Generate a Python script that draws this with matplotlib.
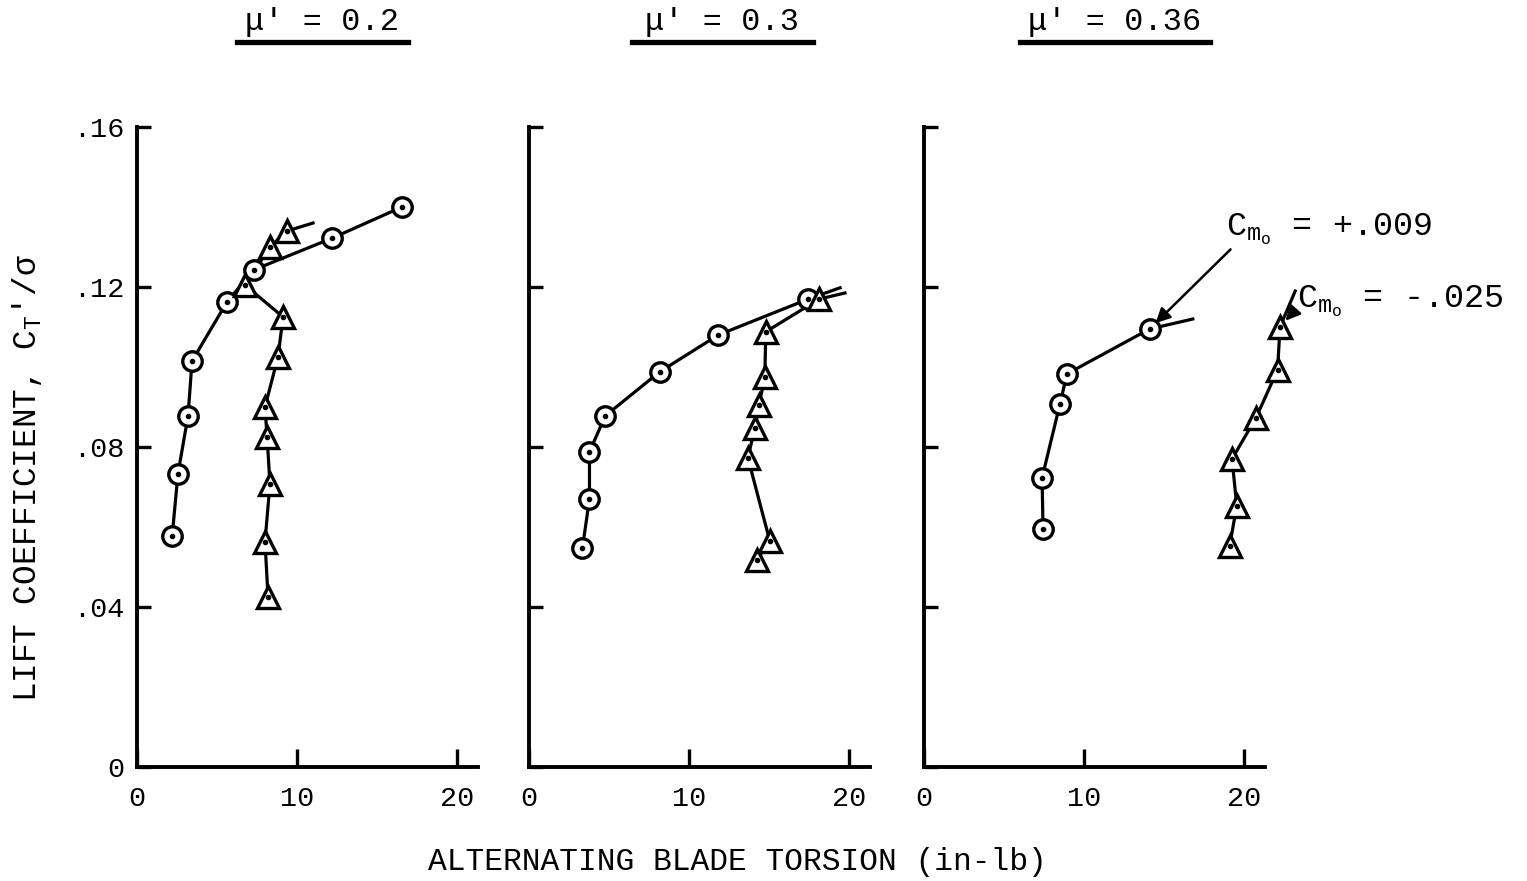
import matplotlib.pyplot as plt
import matplotlib.lines as mlines

plt.rcParams['font.family'] = ['Liberation Mono', 'DejaVu Sans Mono']
plt.rcParams['mathtext.fontset'] = 'custom'
plt.rcParams['mathtext.rm'] = 'Liberation Mono'
plt.rcParams['mathtext.it'] = 'Liberation Mono'

# data: torsion (in-lb) vs CT'/sigma
titles = ["μ' = 0.2", "μ' = 0.3", "μ' = 0.36"]

circ_x = [
    [2.2, 2.56, 3.19, 3.44, 5.63, 7.31, 12.19, 16.56],
    [3.34, 3.78, 3.78, 4.77, 8.17, 11.83, 17.46],
    [7.44, 7.38, 8.5, 8.94, 14.1],
]
circ_y = [
    [0.0578, 0.0733, 0.0878, 0.1015, 0.1163, 0.1243, 0.1322, 0.140],
    [0.0548, 0.067, 0.0788, 0.0878, 0.0988, 0.108, 0.117],
    [0.0595, 0.0723, 0.0908, 0.0983, 0.1095],
]
# faired curve continues past the last point
circ_tail = [None, (19.44, 0.1198), (16.8, 0.112)]

tri_x = [
    [8.19, 8.0, 8.31, 8.13, 8.0, 8.81, 9.13, 6.75, 8.31, 9.38],
    [14.24, 15.05, 13.68, 14.12, 14.37, 14.74, 14.8, 18.14],
    [19.1, 19.55, 19.25, 20.75, 22.1, 22.25],
]
tri_y = [
    [0.0425, 0.0563, 0.0708, 0.0825, 0.090, 0.1025, 0.1125, 0.1205, 0.130, 0.134],
    [0.0518, 0.0565, 0.0773, 0.0848, 0.0905, 0.0975, 0.1088, 0.117],
    [0.0553, 0.0653, 0.077, 0.0873, 0.0993, 0.110],
]
tri_tail = [(11.0, 0.136), (19.75, 0.1185), (23.2, 0.119)]

fig = plt.figure(figsize=(15.27, 8.81), dpi=100)

W, H = 1527, 881
lefts = [137, 529, 924]
bottom, top = 767, 127
xmax = 21.3
px_per_unit = 16.0

axes = []
for i in range(3):
    ax = fig.add_axes([lefts[i] / W, (H - bottom) / H,
                       xmax * px_per_unit / W, (bottom - top) / H])
    axes.append(ax)
    ax.set_xlim(0, xmax)
    ax.set_ylim(0, 0.16)
    for s in ['top', 'right']:
        ax.spines[s].set_visible(False)
    for s in ['left', 'bottom']:
        ax.spines[s].set_linewidth(2.8)
    ax.set_xticks([0, 10, 20])
    ax.set_xticklabels(['0', '10', '20'])
    ax.set_yticks([0, 0.04, 0.08, 0.12, 0.16])
    ax.tick_params(axis='both', direction='in', width=2.4, labelsize=20.5)
    ax.tick_params(axis='x', length=13, pad=14)
    ax.tick_params(axis='y', length=10, pad=9)
    if i == 0:
        ax.set_yticklabels(['0', '.04', '.08', '.12', '.16'])
    else:
        ax.set_yticklabels([])

    # circle series
    cx, cy = list(circ_x[i]), list(circ_y[i])
    if circ_tail[i]:
        cx.append(circ_tail[i][0])
        cy.append(circ_tail[i][1])
    ax.plot(cx, cy, color='black', lw=2.3, clip_on=False, zorder=2)
    ax.plot(circ_x[i], circ_y[i], ls='none', marker='o', ms=14, mfc='white',
            mec='black', mew=2.4, clip_on=False, zorder=3)
    ax.plot(circ_x[i], circ_y[i], ls='none', marker='o', ms=3, color='black',
            clip_on=False, zorder=4)

    # triangle series
    tx, ty = list(tri_x[i]), list(tri_y[i])
    tx.append(tri_tail[i][0])
    ty.append(tri_tail[i][1])
    ax.plot(tx, ty, color='black', lw=2.3, clip_on=False, zorder=2)
    ax.plot(tri_x[i], tri_y[i], ls='none', marker='^', ms=16, mfc='white',
            mec='black', mew=2.4, clip_on=False, zorder=3)
    ax.plot(tri_x[i], tri_y[i], ls='none', marker='o', ms=3, color='black',
            clip_on=False, zorder=4)

# panel titles with underline
title_cx = [322, 722, 1115]
ul = [(237, 408), (632, 813), (1020, 1210)]
for i in range(3):
    fig.text(title_cx[i] / W, 1 - 22 / H, titles[i], ha='center', va='center',
             fontsize=23)
    fig.add_artist(mlines.Line2D([ul[i][0] / W, ul[i][1] / W],
                                 [1 - 42 / H, 1 - 42 / H], color='black', lw=3.8))

# annotations on third panel
ax3 = axes[2]
ax3.annotate(r"$\mathrm{C_{m_o}}$ = +.009", xy=(circ_x[2][-1], circ_y[2][-1]),
             xytext=(18.9, 0.1345), fontsize=24, ha='left', va='center',
             annotation_clip=False,
             arrowprops=dict(arrowstyle='-|>', color='black', lw=1.8,
                             mutation_scale=22, shrinkA=0, shrinkB=6,
                             relpos=(0.06, 0.15)))
ax3.annotate(r"$\mathrm{C_{m_o}}$ = -.025", xy=(tri_x[2][-1], tri_y[2][-1]),
             xytext=(23.3, 0.1165), fontsize=24, ha='left', va='center',
             annotation_clip=False,
             arrowprops=dict(arrowstyle='-|>', color='black', lw=1.8,
                             mutation_scale=22, shrinkA=0, shrinkB=6,
                             relpos=(0.0, 0.3)))

fig.text(737 / W, 1 - 862 / H, "ALTERNATING BLADE TORSION (in-lb)",
         ha='center', va='center', fontsize=22.5)
fig.text(27 / W, 1 - 478 / H, r"LIFT COEFFICIENT, $\mathrm{C_T}$'/σ",
         ha='center', va='center', rotation=90, fontsize=23.5)

fig.savefig('out.png', dpi=100)
